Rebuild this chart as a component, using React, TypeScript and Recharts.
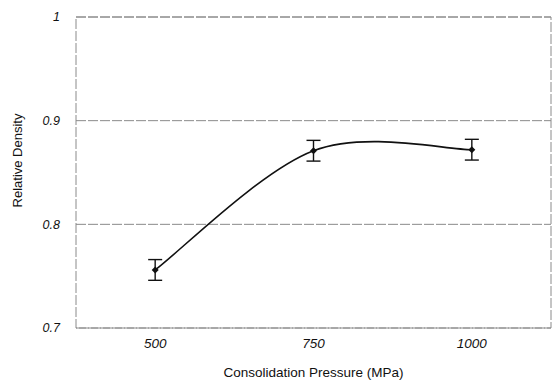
import { LineChart, Line, XAxis, YAxis, CartesianGrid, ErrorBar, ReferenceArea } from 'recharts'

const pressures = [500, 750, 1000]
const density = [0.756, 0.871, 0.872]
const densityErr = [0.01, 0.01, 0.01]
const xTicks = [500, 750, 1000]
const yTicks = [0.7, 0.8, 0.9, 1]

const data = pressures.map((p, i) => ({ p, d: density[i], err: densityErr[i] }))

const FONT = '"Liberation Sans", Arial, sans-serif'

// spreadsheet-style smoothed line (cardinal spline, tension 0, drawn as beziers)
function smoothCurve(context: any) {
  let pts: number[][] = []
  return {
    areaStart() {},
    areaEnd() {},
    lineStart() { pts = [] },
    point(x: number, y: number) { pts.push([+x, +y]) },
    lineEnd() {
      if (!pts.length) return
      context.moveTo(pts[0][0], pts[0][1])
      for (let i = 0; i < pts.length - 1; i++) {
        const p0 = pts[i - 1] || pts[i]
        const p1 = pts[i]
        const p2 = pts[i + 1]
        const p3 = pts[i + 2] || p2
        context.bezierCurveTo(
          p1[0] + (p2[0] - p0[0]) / 6, p1[1] + (p2[1] - p0[1]) / 6,
          p2[0] - (p3[0] - p1[0]) / 6, p2[1] - (p3[1] - p1[1]) / 6,
          p2[0], p2[1],
        )
      }
    },
  }
}

function Diamond({ cx, cy }: any) {
  if (cx == null || cy == null) return null
  return <path d={`M${cx},${cy - 3.5}L${cx + 3.5},${cy}L${cx},${cy + 3.5}L${cx - 3.5},${cy}Z`} fill="#111" />
}

export default function App() {
  return (
    <div style={{ position: 'absolute', left: 0, top: 0, background: '#fff' }}>
      <LineChart width={553} height={385} data={data} margin={{ top: 17, right: 2, bottom: 0, left: 0 }}>
        <CartesianGrid vertical={false} stroke="#8a8a8a" strokeDasharray="10 2" />
        <ReferenceArea x1={375} x2={1125} y1={0.7} y2={1} fill="none" stroke="#8a8a8a" strokeDasharray="10 2" />
        <XAxis
          dataKey="p"
          type="number"
          domain={[375, 1125]}
          ticks={xTicks}
          height={57}
          axisLine={false}
          tickLine={false}
          tickMargin={4}
          tick={{ fill: '#111', fontSize: 13.5, fontStyle: 'italic', fontFamily: FONT }}
          label={{ value: 'Consolidation Pressure (MPa)', position: 'center', dy: 16, fill: '#111', fontSize: 13.5, fontFamily: FONT }}
        />
        <YAxis
          type="number"
          domain={[0.7, 1]}
          ticks={yTicks}
          width={76}
          axisLine={false}
          tickLine={false}
          tickMargin={10}
          tick={{ fill: '#111', fontSize: 12.5, fontStyle: 'italic', fontFamily: FONT }}
          label={{ value: 'Relative Density', angle: -90, position: 'center', dx: -21, dy: -12, fill: '#111', fontSize: 13, fontFamily: FONT }}
        />
        <Line
          type={smoothCurve as any}
          dataKey="d"
          stroke="#111"
          strokeWidth={1.6}
          dot={<Diamond />}
          activeDot={false}
          isAnimationActive={false}
        >
          <ErrorBar dataKey="err" width={7} stroke="#111" strokeWidth={1.4} isAnimationActive={false} />
        </Line>
      </LineChart>
    </div>
  )
}
